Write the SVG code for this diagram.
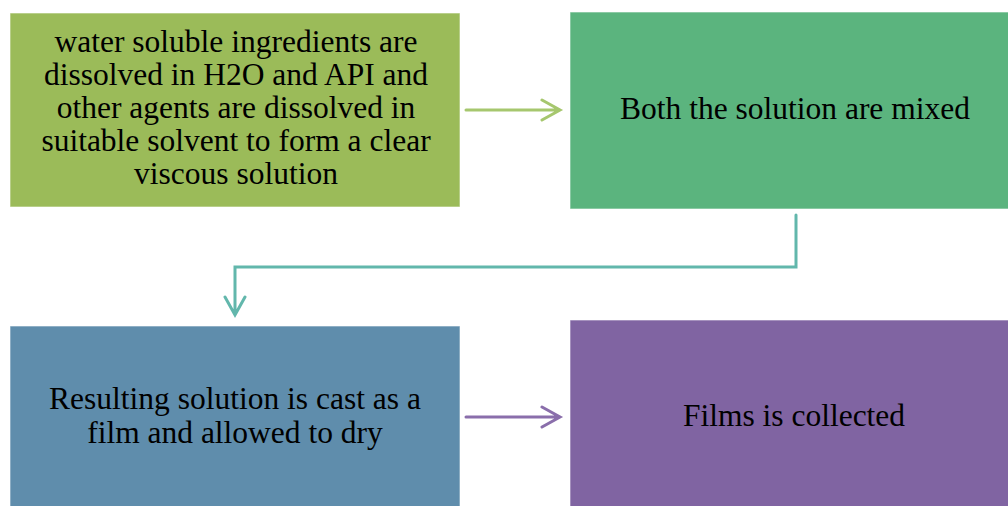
<svg xmlns="http://www.w3.org/2000/svg" width="1008" height="506" viewBox="0 0 1008 506">
<style>
.box{stroke:#ffffff;stroke-opacity:0.6;stroke-width:1}
.t{font-family:"Liberation Serif","Times New Roman",serif;font-size:31.5px;fill:#000;text-anchor:middle}
.c{fill:none;stroke-width:3;stroke-linecap:round;stroke-linejoin:miter}
</style>
<rect width="1008" height="506" fill="#ffffff"/>
<g id="node1">
<rect class="box" x="10" y="13" width="450" height="194" fill="#9BBB59"/>
<text class="t" x="236" y="52">water soluble ingredients are</text>
<text class="t" x="236" y="85">dissolved in H2O and API and</text>
<text class="t" x="236" y="118">other agents are dissolved in</text>
<text class="t" x="236" y="151">suitable solvent to form a clear</text>
<text class="t" x="236" y="184">viscous solution</text>
</g>
<g id="node2">
<rect class="box" x="570" y="12" width="440" height="197" fill="#5BB47E"/>
<text class="t" x="795" y="119">Both the solution are mixed</text>
</g>
<g id="node3">
<rect class="box" x="10" y="326" width="450" height="182" fill="#5F8DAC"/>
<text class="t" x="235" y="409">Resulting solution is cast as a</text>
<text class="t" x="235" y="443">film and allowed to dry</text>
</g>
<g id="node4">
<rect class="box" x="570" y="320" width="440" height="188" fill="#8064A2"/>
<text class="t" x="794" y="426">Films is collected</text>
</g>
<g id="connectors">
<path class="c" stroke="#A6C76E" d="M466 110 H559 M542 100 L560 110 L542 120"/>
<path class="c" stroke="#62B7AC" d="M796 215 V267 H235 V314 M225 297 L235 315 L245 297"/>
<path class="c" stroke="#8A6EAB" d="M466 417 H559 M542 407 L560 417 L542 427"/>
</g>
</svg>
